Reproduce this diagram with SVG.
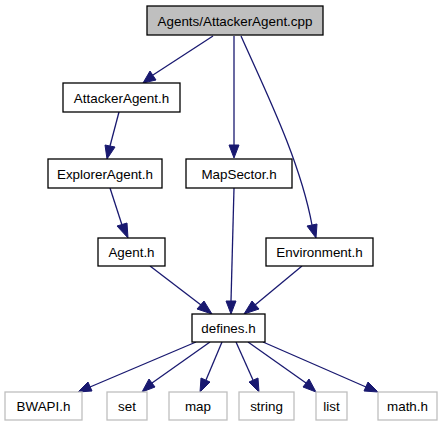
<svg xmlns="http://www.w3.org/2000/svg" width="445" height="427" viewBox="0 0 445 427">
<style>
.n rect{fill:#fff;stroke:#000;stroke-width:1.3}
.root rect{fill:#bfbfbf;stroke:#000;stroke-width:1.3}
.ext rect{fill:#fff;stroke:#bfbfbf;stroke-width:1.3}
text{font-family:"Liberation Sans",Arial,sans-serif;font-size:13.4px;fill:#000;text-anchor:middle}
.e{fill:none;stroke:#191970;stroke-width:1.3}
.ah{fill:#191970;stroke:#191970;stroke-width:1}
</style>
<rect width="445" height="427" fill="#fff"/>
<g id="connectors">
<path class="e" d="M213,36 L153,75"/><polygon class="ah" points="156,80 143,83 150,71"/>
<path class="e" d="M234,36 L234,145"/><polygon class="ah" points="229,145 239,145 234,158"/>
<path class="e" d="M241,36 C265,90 300,160 312,225"/><polygon class="ah" points="307,226 317,224 316,238"/>
<path class="e" d="M119,112 L110,146"/><polygon class="ah" points="105,145 115,147 107,159"/>
<path class="e" d="M110,188 L122,225"/><polygon class="ah" points="117,226 127,223 128,238"/>
<path class="e" d="M150,266 L201,305"/><polygon class="ah" points="197,309 204,301 212,314"/>
<path class="e" d="M234,188 L231,301"/><polygon class="ah" points="226,301 236,301 231,314"/>
<path class="e" d="M302,266 L255,305"/><polygon class="ah" points="252,301 259,309 244,314"/>
<path class="e" d="M196,342 L90,387"/><polygon class="ah" points="88,382 92,391 78,392"/>
<path class="e" d="M210,342 L152,383"/><polygon class="ah" points="149,379 155,387 142,392"/>
<path class="e" d="M222,342 L206,380"/><polygon class="ah" points="201,378 210,382 200,392"/>
<path class="e" d="M236,342 L253,380"/><polygon class="ah" points="249,382 258,378 259,392"/>
<path class="e" d="M248,342 L306,383"/><polygon class="ah" points="303,387 309,379 316,392"/>
<path class="e" d="M263,342 L366,387"/><polygon class="ah" points="364,391 368,382 378,392"/>
</g>
<g id="n0" class="root"><rect x="147" y="6" width="176" height="29"/><text x="235" y="25.5">Agents/AttackerAgent.cpp</text></g>
<g id="n1" class="n"><rect x="63" y="83" width="117" height="29"/><text x="121.5" y="102.5">AttackerAgent.h</text></g>
<g id="n2" class="n"><rect x="48" y="159" width="114" height="29"/><text x="105" y="178.5">ExplorerAgent.h</text></g>
<g id="n3" class="n"><rect x="186" y="159" width="106" height="29"/><text x="239" y="178.5">MapSector.h</text></g>
<g id="n4" class="n"><rect x="98" y="238" width="67" height="28"/><text x="131.5" y="257">Agent.h</text></g>
<g id="n5" class="n"><rect x="266" y="238" width="107" height="28"/><text x="319.5" y="257">Environment.h</text></g>
<g id="n6" class="n"><rect x="192" y="314" width="73" height="28"/><text x="228.5" y="333">defines.h</text></g>
<g id="n7" class="ext"><rect x="5" y="392" width="77" height="28"/><text x="43.5" y="411">BWAPI.h</text></g>
<g id="n8" class="ext"><rect x="107" y="392" width="40" height="28"/><text x="127" y="411">set</text></g>
<g id="n9" class="ext"><rect x="169" y="392" width="58" height="28"/><text x="198" y="411">map</text></g>
<g id="n10" class="ext"><rect x="239" y="392" width="55" height="28"/><text x="266.5" y="411">string</text></g>
<g id="n11" class="ext"><rect x="316" y="392" width="31" height="28"/><text x="331.5" y="411">list</text></g>
<g id="n12" class="ext"><rect x="378" y="392" width="59" height="28"/><text x="407.5" y="411">math.h</text></g>
</svg>
